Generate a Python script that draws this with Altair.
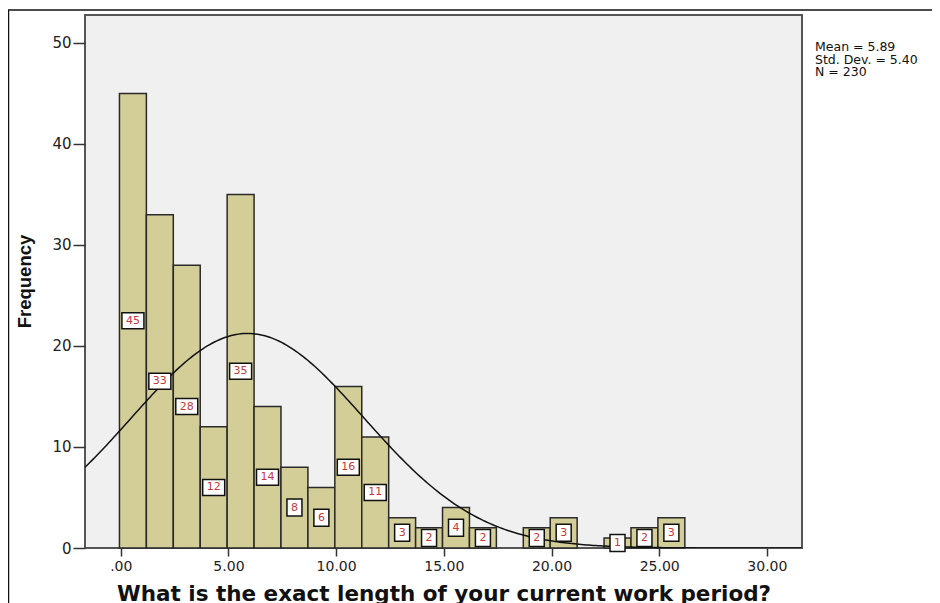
import altair as alt
import pandas as pd
import numpy as np

# ---- data ----
counts = [45, 33, 28, 12, 35, 14, 8, 6, 16, 11, 3, 2, 4, 2, 0, 2, 3, 0, 1, 2, 3]
bin_start = -0.06
bin_width = 1.25
mean_val = 5.89
sd_val = 5.40
n_val = 230
x_ticks = [0, 5, 10, 15, 20, 25, 30]
y_ticks = [0, 10, 20, 30, 40, 50]
x_domain = [-1.66, 31.63]
y_domain = [0, 52.77]
x_title = "What is the exact length of your current work period?"
y_title = "Frequency"

bars = pd.DataFrame({
    "lo": [bin_start + i * bin_width for i in range(len(counts))],
    "hi": [bin_start + (i + 1) * bin_width for i in range(len(counts))],
    "count": counts,
})
bars["mid"] = (bars["lo"] + bars["hi"]) / 2
bars["half"] = bars["count"] / 2
bars = bars[bars["count"] > 0].reset_index(drop=True)

# fitted normal curve from the stated mean / sd / N
xs = np.linspace(x_domain[0], x_domain[1], 300)
curve = pd.DataFrame({
    "x": xs,
    "y": n_val * bin_width / (sd_val * np.sqrt(2 * np.pi)) * np.exp(-0.5 * ((xs - mean_val) / sd_val) ** 2),
})

xscale = alt.Scale(domain=x_domain, nice=False, zero=False)
yscale = alt.Scale(domain=y_domain, nice=False, zero=False)

xaxis = alt.Axis(values=x_ticks, grid=False, domain=False, tickSize=8, tickColor="#333333",
                 tickWidth=1.5,
                 labelExpr="datum.value == 0 ? '.00' : format(datum.value, '.2f')",
                 labelFont="DejaVu Sans", labelFontSize=14, labelColor="#222222", labelPadding=3,
                 title=x_title, titleFont="DejaVu Sans", titleFontSize=21.5, titleFontWeight="bold",
                 titleColor="#111111", titleY=52, titleBaseline="alphabetic")
yaxis = alt.Axis(values=y_ticks, grid=False, domain=False, tickSize=12, tickColor="#333333",
                 tickWidth=1.5, format="d",
                 labelFont="DejaVu Sans", labelFontSize=15, labelColor="#222222", labelPadding=2,
                 title=y_title, titleFont="Liberation Sans", titleFontSize=18.5, titleFontWeight="bold",
                 titleColor="#111111", titleAngle=-90, titleX=-55, titleY=266,
                 titleBaseline="alphabetic", titleAlign="center")

bar_layer = alt.Chart(bars).mark_rect(fill="#d3ce98", stroke="#2a2a2a", strokeWidth=1.5).encode(
    x=alt.X("lo:Q", scale=xscale, axis=xaxis),
    x2="hi:Q",
    y=alt.Y("count:Q", scale=yscale, axis=yaxis),
    y2=alt.datum(0),
)

curve_layer = alt.Chart(curve).mark_line(color="#111111", strokeWidth=1.5, clip=True).encode(
    x=alt.X("x:Q", scale=xscale, axis=xaxis),
    y=alt.Y("y:Q", scale=yscale, axis=yaxis),
)

box_two = alt.Chart(bars).transform_filter("datum.count >= 10").mark_point(
    shape="M-1.1,-0.8H1.1V0.8H-1.1Z", size=400, filled=True, fill="white",
    stroke="#111111", strokeWidth=1.5, opacity=1).encode(
    x=alt.X("mid:Q", scale=xscale, axis=xaxis),
    y=alt.Y("half:Q", scale=yscale, axis=yaxis),
)
box_one = alt.Chart(bars).transform_filter("datum.count < 10").mark_point(
    shape="M-0.75,-0.85H0.75V0.85H-0.75Z", size=400, filled=True, fill="white",
    stroke="#111111", strokeWidth=1.5, opacity=1).encode(
    x=alt.X("mid:Q", scale=xscale, axis=xaxis),
    y=alt.Y("half:Q", scale=yscale, axis=yaxis),
)
label_layer = alt.Chart(bars).mark_text(color="#c8383a", font="DejaVu Sans", fontSize=11,
                                        align="center", baseline="middle").encode(
    x=alt.X("mid:Q", scale=xscale, axis=xaxis),
    y=alt.Y("half:Q", scale=yscale, axis=yaxis),
    text="count:Q",
)

stats_text = f"Mean = {mean_val:.2f}\nStd. Dev. = {sd_val:.2f}\nN = {n_val}"
stats_layer = alt.Chart(pd.DataFrame({"t": [stats_text]})).mark_text(
    align="left", baseline="alphabetic", font="DejaVu Sans", fontSize=12.5, color="#111111",
    lineBreak="\n", lineHeight=12.5).encode(
    x=alt.value(730), y=alt.value(36), text="t:N")

frame_top = alt.Chart(pd.DataFrame({"a": [0]})).mark_rule(color="#111111", strokeWidth=1.5).encode(
    x=alt.value(-77), x2=alt.value(900), y=alt.value(-5))
frame_left = alt.Chart(pd.DataFrame({"a": [0]})).mark_rule(color="#111111", strokeWidth=1.5).encode(
    x=alt.value(-76.5), y=alt.value(-5), y2=alt.value(620))

chart = alt.layer(bar_layer, curve_layer, box_two, box_one, label_layer, stats_layer,
                  frame_top, frame_left).properties(
    width=717, height=533,
    autosize=alt.AutoSizeParams(type="none"),
    padding={"left": 77, "top": 7, "right": 130, "bottom": 55},
    background="white",
).configure_view(fill="#f0f0f0", stroke="#555555", strokeWidth=2)

chart.save("out.html", embed_options={"renderer": "svg", "actions": False})
